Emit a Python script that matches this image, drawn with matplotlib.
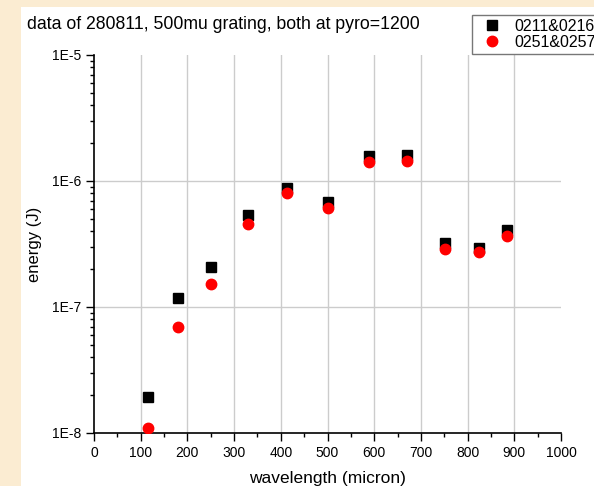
import math

import matplotlib
matplotlib.use('Agg')
import matplotlib.pyplot as plt
from matplotlib.patches import Rectangle
from matplotlib.ticker import FixedLocator, FuncFormatter, LogLocator, NullFormatter

plt.rcParams['font.family'] = ['Liberation Sans', 'DejaVu Sans']

# wavelength (micron) for both runs
wavelength = [116, 179, 251, 330, 414, 500, 588, 671, 751, 824, 885]
# energy (J), shots 0211&0216
energy_a = [1.94e-8, 1.17e-7, 2.09e-7, 5.37e-7, 8.75e-7, 6.81e-7,
            1.58e-6, 1.62e-6, 3.2e-7, 2.94e-7, 4.08e-7]
# energy (J), shots 0251&0257
energy_b = [1.09e-8, 7.0e-8, 1.52e-7, 4.53e-7, 8.03e-7, 6.1e-7,
            1.42e-6, 1.45e-6, 2.89e-7, 2.73e-7, 3.64e-7]
labels = ['0211&0216', '0251&0257']
title = 'data of 280811, 500mu grating, both at pyro=1200'

W, H = 594, 486
fig = plt.figure(figsize=(W / 100, H / 100), dpi=100)
fig.patch.set_facecolor('#fbecd2')
# white sheet behind the plot
fig.patches.append(Rectangle((21 / W, 0), 1, 1 - 7 / H, transform=fig.transFigure,
                             facecolor='white', edgecolor='none', zorder=-10))

ax = fig.add_axes([94 / W, 1 - 433 / H, 467 / W, 378 / H])
ax.set_facecolor('none')

ax.plot(wavelength, energy_a, 's', color='black', markersize=7, label=labels[0], zorder=3)
ax.plot(wavelength, energy_b, 'o', color='red', markersize=7.5, label=labels[1], zorder=4)

ax.set_yscale('log')
ax.set_xlim(0, 1000)
ax.set_ylim(1e-8, 1e-5)

ax.xaxis.set_major_locator(FixedLocator(range(0, 1001, 100)))
ax.xaxis.set_minor_locator(FixedLocator(range(50, 1000, 100)))
ax.yaxis.set_major_locator(LogLocator(base=10))
ax.yaxis.set_minor_locator(LogLocator(base=10, subs=range(2, 10)))
ax.yaxis.set_major_formatter(FuncFormatter(lambda v, p: '1E%d' % round(math.log10(v))))
ax.yaxis.set_minor_formatter(NullFormatter())

ax.tick_params(which='major', direction='out', length=6, width=1, labelsize=10, colors='black')
ax.tick_params(which='minor', direction='out', length=3, width=1)

# grid lines, drawn by hand so the outer ones are left out
for x in range(100, 1000, 100):
    ax.axvline(x, color='#cccccc', linewidth=1, zorder=1)
for y in [1e-7, 1e-6]:
    ax.axhline(y, color='#cccccc', linewidth=1, zorder=1)

for side in ['top', 'right']:
    ax.spines[side].set_visible(False)
for side in ['left', 'bottom']:
    ax.spines[side].set_linewidth(1.2)

ax.set_xlabel('wavelength (micron)', fontsize=12.5, labelpad=8)
ax.set_ylabel('energy (J)', fontsize=12, labelpad=7)

fig.text(27 / W, 1 - 29 / H, title, fontsize=12.7, ha='left', va='baseline')

leg = fig.legend(loc='upper left', bbox_to_anchor=(472 / W, 1 - 15 / H), fontsize=11.5,
                 frameon=True, fancybox=False, borderpad=0.25, labelspacing=0.05,
                 handletextpad=0.4, borderaxespad=0, handlelength=2.0)
leg.get_frame().set_edgecolor('#555555')
leg.get_frame().set_linewidth(1)

fig.savefig('out.png', dpi=100, facecolor=fig.get_facecolor())
